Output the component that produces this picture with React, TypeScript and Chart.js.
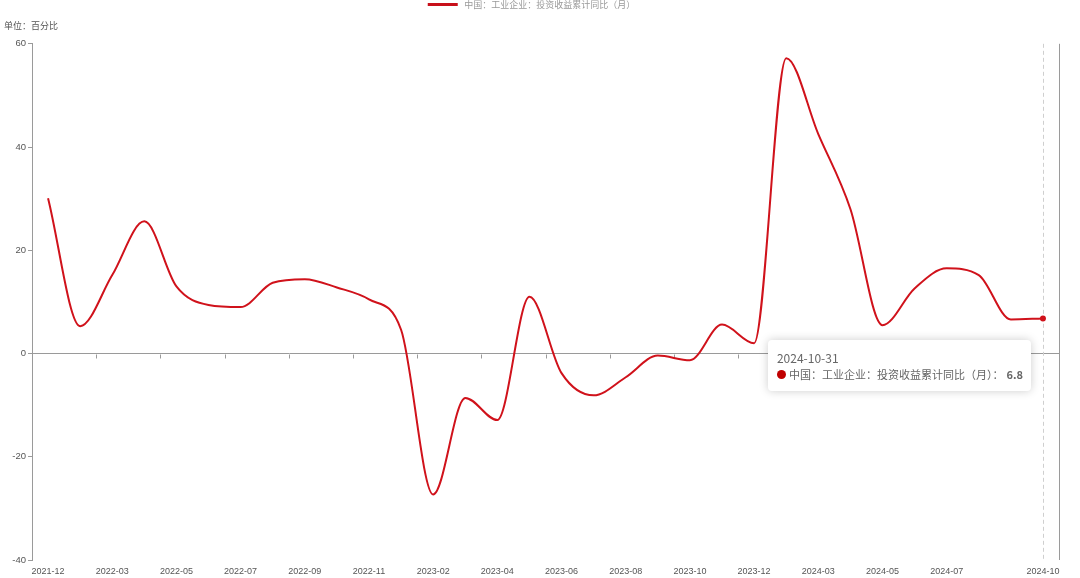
import React, { useEffect, useRef } from 'react';
import { Chart, registerables } from 'chart.js';

Chart.register(...registerables);

const dates = [
  '2021-12-31',
  '2022-02-28', '2022-03-31', '2022-04-30', '2022-05-31', '2022-06-30', '2022-07-31',
  '2022-08-31', '2022-09-30', '2022-10-31', '2022-11-30', '2022-12-31',
  '2023-02-28', '2023-03-31', '2023-04-30', '2023-05-31', '2023-06-30', '2023-07-31',
  '2023-08-31', '2023-09-30', '2023-10-31', '2023-11-30', '2023-12-31',
  '2024-02-29', '2024-03-31', '2024-04-30', '2024-05-31', '2024-06-30', '2024-07-31',
  '2024-08-31', '2024-09-30', '2024-10-31',
];

const values = [
  30.1,
  5.3, 15.2, 25.6, 13.0, 9.4, 9.0,
  13.7, 14.4, 12.8, 10.5, 4.6,
  -27.3, -8.6, -12.9, 11.0, -3.8, -8.1,
  -4.6, -0.4, -1.3, 5.6, 2.0,
  57.2, 42.5, 28.0, 5.5, 12.6, 16.5,
  15.2, 6.6, 6.8,
];

const seriesName = '中国：工业企业：投资收益累计同比（月）';
const unitLabel = '单位：百分比';
const labelIndices = [0, 2, 4, 6, 8, 10, 12, 14, 16, 18, 20, 22, 24, 26, 28, 31];
const yMin = -40;
const yMax = 60;
const yStep = 20;

const lineColor = '#d0121b';
const axisColor = '#9a9a9a';
const tickTextColor = '#555';

const decorPlugin = {
  id: 'decor',
  beforeDatasetsDraw(chart: any) {
    const { ctx, chartArea, scales } = chart;
    const { top, bottom, right } = chartArea;
    const x = scales.x;
    const y = scales.y;
    ctx.save();
    ctx.strokeStyle = axisColor;
    ctx.lineWidth = 1;
    const rx = Math.round(right) + 0.5;
    ctx.beginPath();
    ctx.moveTo(rx, top);
    ctx.lineTo(rx, bottom);
    ctx.stroke();
    const y0 = Math.round(y.getPixelForValue(0)) + 0.5;
    for (let k = 1; k < dates.length - 1; k += 2) {
      const px = Math.round((x.getPixelForValue(k) + x.getPixelForValue(k + 1)) / 2) + 0.5;
      ctx.beginPath();
      ctx.moveTo(px, y0);
      ctx.lineTo(px, y0 + 4);
      ctx.stroke();
    }
    const lx = Math.round(x.getPixelForValue(dates.length - 1)) + 0.5;
    ctx.strokeStyle = '#cfcfcf';
    ctx.setLineDash([4, 3]);
    ctx.beginPath();
    ctx.moveTo(lx, top);
    ctx.lineTo(lx, bottom);
    ctx.stroke();
    ctx.restore();
  },
};

export default function App() {
  const canvasRef = useRef<HTMLCanvasElement | null>(null);
  const tipRef = useRef<HTMLDivElement | null>(null);

  useEffect(() => {
    if (!canvasRef.current) return;
    const chart = new Chart(canvasRef.current, {
      type: 'line',
      data: {
        labels: dates,
        datasets: [
          {
            label: seriesName,
            data: values,
            borderColor: lineColor,
            backgroundColor: lineColor,
            borderWidth: 2,
            cubicInterpolationMode: 'monotone',
            pointRadius: 0,
            pointHoverRadius: 3,
            pointHoverBorderWidth: 0,
            pointHoverBackgroundColor: lineColor,
            fill: false,
          },
        ],
      },
      options: {
        animation: false,
        responsive: true,
        maintainAspectRatio: false,
        events: [],
        layout: { padding: { left: 4, right: 21, top: 0, bottom: 0 } },
        plugins: {
          legend: {
            display: true,
            position: 'top',
            labels: {
              boxWidth: 30,
              boxHeight: 3,
              padding: 0,
              color: '#999',
              font: { size: 9, family: '"Noto Sans CJK SC", sans-serif' },
              generateLabels: (chart: any) => {
                const items = Chart.defaults.plugins.legend.labels.generateLabels(chart);
                return items.map((it: any) => ({ ...it, lineWidth: 0, fillStyle: '#c8101a', text: ' ' + it.text }));
              },
            },
          },
          subtitle: {
            display: true,
            text: unitLabel,
            align: 'start',
            weight: 500,
            color: '#555',
            font: { size: 9, family: '"Noto Sans CJK SC", sans-serif', weight: 'normal' },
            padding: { top: 1, bottom: 13 },
          },
          tooltip: {
            enabled: false,
            external: (context: any) => {
              const el = tipRef.current;
              if (!el) return;
              const tt = context.tooltip;
              if (!tt || tt.opacity === 0 || !tt.dataPoints || !tt.dataPoints.length) {
                el.style.opacity = '0';
                return;
              }
              const dp = tt.dataPoints[0];
              const titleEl = el.querySelector('.tt-title') as HTMLElement;
              const nameEl = el.querySelector('.tt-name') as HTMLElement;
              const valEl = el.querySelector('.tt-val') as HTMLElement;
              titleEl.textContent = dates[dp.dataIndex];
              nameEl.textContent = dp.dataset.label + '：';
              valEl.textContent = String(values[dp.dataIndex]);
              el.style.opacity = '1';
              el.style.left = tt.caretX - 275 + 'px';
              el.style.top = tt.caretY + 22 + 'px';
            },
          },
        },
        scales: {
          x: {
            type: 'category',
            offset: true,
            grid: { display: false, drawTicks: false },
            border: { display: false },
            ticks: {
              autoSkip: false,
              maxRotation: 0,
              minRotation: 0,
              padding: 6,
              color: tickTextColor,
              font: { size: 9, family: '"Liberation Sans", Arial, sans-serif' },
              callback: (_v: any, i: number) =>
                labelIndices.includes(i) ? dates[i].slice(0, 7) : null,
            },
            afterFit: (s: any) => {
              s.height = 18;
            },
          },
          y: {
            min: yMin,
            max: yMax,
            ticks: {
              stepSize: yStep,
              padding: 2,
              color: tickTextColor,
              font: { size: 9.5, family: '"Liberation Sans", Arial, sans-serif' },
            },
            grid: {
              drawOnChartArea: true,
              color: (c: any) => (c.tick && c.tick.value === 0 ? axisColor : 'rgba(0,0,0,0)'),
              tickColor: axisColor,
              tickLength: 4,
            },
            border: { display: true, color: axisColor },
            afterFit: (s: any) => {
              s.width = 28;
            },
          },
        },
      },
      plugins: [decorPlugin],
    });

    const last = values.length - 1;
    const meta = chart.getDatasetMeta(0);
    const pt: any = meta.data[last];
    chart.setActiveElements([{ datasetIndex: 0, index: last }]);
    chart.tooltip?.setActiveElements([{ datasetIndex: 0, index: last }], { x: pt.x, y: pt.y });
    chart.update();

    return () => {
      chart.destroy();
    };
  }, []);

  return (
    <div style={{ position: 'fixed', left: 0, top: 0, width: 1080, height: 578, background: '#fff' }}>
      <canvas ref={canvasRef} />
      <div
        ref={tipRef}
        style={{
          position: 'absolute',
          opacity: 0,
          pointerEvents: 'none',
          background: '#fff',
          borderRadius: 4,
          boxShadow: '0 0 10px rgba(0,0,0,0.2)',
          padding: '9px 8px 8px 9px',
          fontFamily: '"Noto Sans CJK SC", sans-serif',
          color: '#666',
          whiteSpace: 'nowrap',
          lineHeight: '17px',
        }}
      >
        <div className="tt-title" style={{ fontSize: 12 }}></div>
        <div style={{ fontSize: 11, display: 'flex', alignItems: 'center' }}>
          <span
            style={{
              display: 'inline-block',
              width: 9,
              height: 9,
              borderRadius: '50%',
              background: '#c00000',
              marginRight: 3,
            }}
          ></span>
          <span className="tt-name"></span>
          <span className="tt-val" style={{ fontWeight: 'bold', fontSize: 11, marginLeft: 3 }}></span>
        </div>
      </div>
    </div>
  );
}
